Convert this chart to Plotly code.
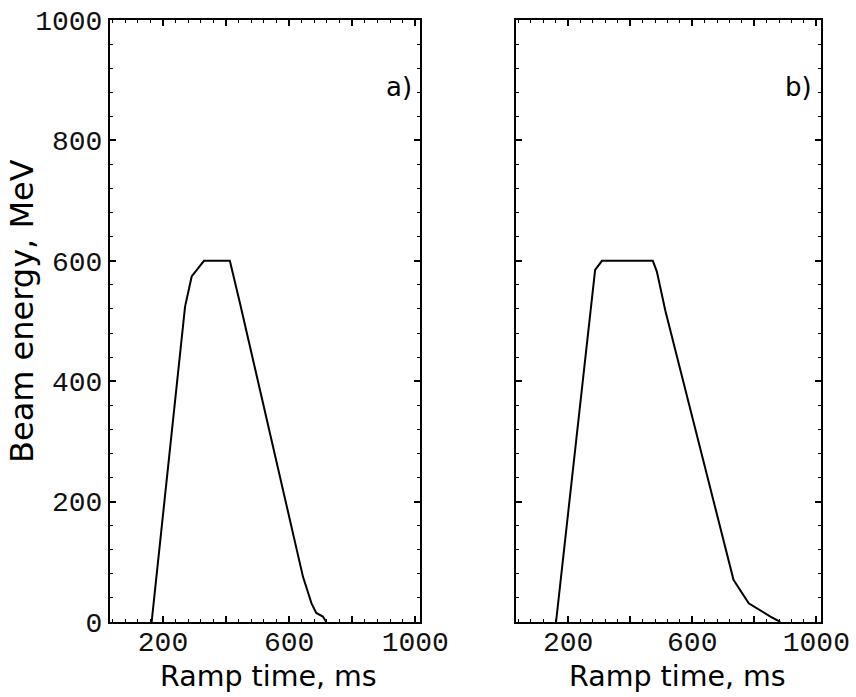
import plotly.graph_objects as go

# Panel a) ramp
t_a = [164, 270, 291, 330, 412, 444, 644, 671, 686, 707, 718]
E_a = [0, 524, 574, 600, 600, 530, 75, 31, 15, 9, 0]
# Panel b) ramp
t_b = [161, 271, 287, 309, 473, 486, 513, 733, 782, 852, 884]
E_b = [0, 515, 585, 600, 600, 582, 518, 70, 31, 9, 0]

x_ticks = [200, 400, 600, 800, 1000]
x_labels = ["200", "", "600", "", "1000"]
y_ticks = [0, 200, 400, 600, 800, 1000]
y_labels = ["0", "200", "400", "600", "800", "1000"]

W, H = 856, 697
def px(x): return x / W
def py(y): return 1 - y / H

fig = go.Figure()
fig.add_trace(go.Scatter(x=t_a, y=E_a, mode="lines", line=dict(color="black", width=2),
                         xaxis="x", yaxis="y", showlegend=False))
fig.add_trace(go.Scatter(x=t_b, y=E_b, mode="lines", line=dict(color="black", width=2),
                         xaxis="x2", yaxis="y2", showlegend=False))

tickfont = dict(family="Liberation Mono, Courier New, monospace", size=28, color="#111")
common = dict(showline=True, linecolor="black", linewidth=2, mirror="allticks",
              ticks="inside", ticklen=6, tickwidth=1.5, tickcolor="black",
              showgrid=False, zeroline=False, tickfont=tickfont, automargin=False,
              minor=dict(dtick=40, tick0=0, ticks="inside", ticklen=3, tickcolor="black", tickwidth=1))

ydom = [py(622), py(20)]
fig.update_layout(
    width=W, height=H, margin=dict(l=0, r=0, t=0, b=0, autoexpand=False),
    paper_bgcolor="white", plot_bgcolor="white",
    xaxis=dict(domain=[px(110), px(420)], range=[32, 1015], tickmode="array",
               tickvals=x_ticks, ticktext=x_labels, anchor="y", ticklabelstandoff=-7, **common),
    yaxis=dict(domain=ydom, range=[0, 1000], tickmode="array",
               tickvals=y_ticks, ticktext=y_labels, anchor="x", ticklabelstandoff=0, **common),
    xaxis2=dict(domain=[px(516), px(821)], range=[32, 1015], tickmode="array",
                tickvals=x_ticks, ticktext=x_labels, anchor="y2", ticklabelstandoff=-7, **common),
    yaxis2=dict(domain=ydom, range=[0, 1000], tickmode="array",
                tickvals=y_ticks, ticktext=[""] * len(y_ticks), anchor="x2", **common),
)

titlefont = dict(family="DejaVu Sans, Liberation Sans, sans-serif", color="black")
fig.add_annotation(text="Ramp time, ms", x=px(268), y=py(676), xref="paper", yref="paper",
                   showarrow=False, font=dict(size=28.5, **titlefont), xanchor="center", yanchor="middle")
fig.add_annotation(text="Ramp time, ms", x=px(677), y=py(676), xref="paper", yref="paper",
                   showarrow=False, font=dict(size=28.5, **titlefont), xanchor="center", yanchor="middle")
fig.add_annotation(text="Beam energy, MeV", x=px(22), y=py(311), xref="paper", yref="paper",
                   showarrow=False, textangle=-90, font=dict(size=32, **titlefont),
                   xanchor="center", yanchor="middle")
fig.add_annotation(text="a)", x=px(414), y=py(87), xref="paper", yref="paper",
                   showarrow=False, font=dict(size=26, **titlefont), xanchor="right", yanchor="middle")
fig.add_annotation(text="b)", x=px(814), y=py(87), xref="paper", yref="paper",
                   showarrow=False, font=dict(size=26, **titlefont), xanchor="right", yanchor="middle")

fig.write_html("out.html")
